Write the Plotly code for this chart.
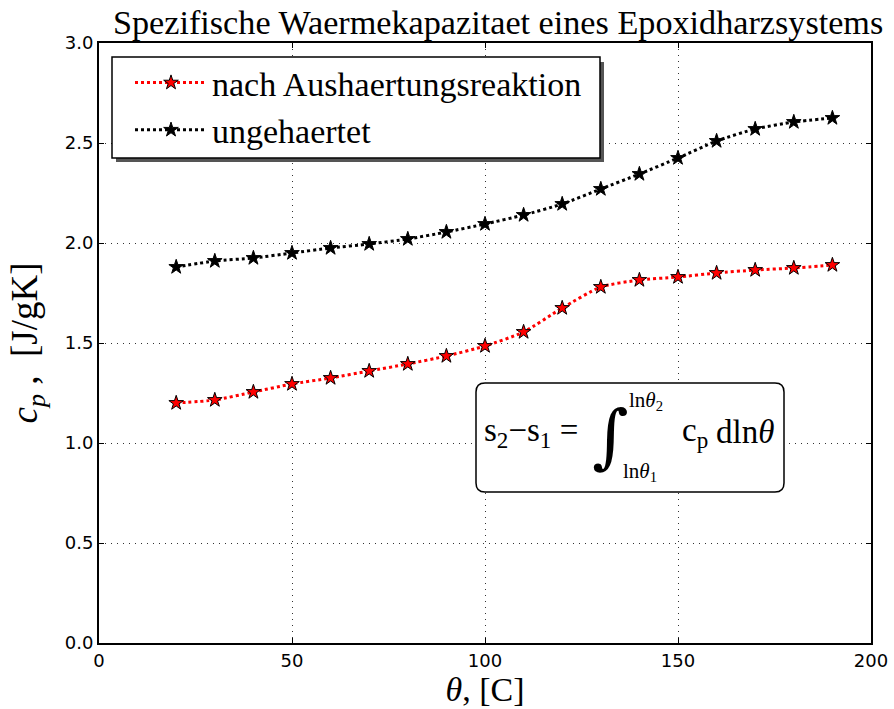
import plotly.graph_objects as go

temps = [20, 30, 40, 50, 60, 70, 80, 90, 100, 110, 120, 130, 140, 150, 160, 170, 180, 190]
cp_cured = [1.20, 1.215, 1.255, 1.295, 1.325, 1.36, 1.395, 1.435, 1.485, 1.555, 1.675, 1.78,
            1.815, 1.83, 1.85, 1.865, 1.875, 1.89]
cp_uncured = [1.88, 1.91, 1.925, 1.95, 1.975, 1.995, 2.02, 2.055, 2.095, 2.14, 2.195, 2.27,
              2.345, 2.425, 2.51, 2.57, 2.605, 2.625]
names = ["nach Aushaertungsreaktion", "ungehaertet"]
x_ticks = [0, 50, 100, 150, 200]
y_ticks = [0.0, 0.5, 1.0, 1.5, 2.0, 2.5, 3.0]

SERIF = "Liberation Serif, DejaVu Serif, serif"
SANS = "DejaVu Sans, sans-serif"

fig = go.Figure()
for vals, name, color in [(cp_cured, names[0], "red"), (cp_uncured, names[1], "black")]:
    fig.add_trace(go.Scatter(
        x=temps, y=vals, name=name, mode="lines+markers",
        line=dict(color=color, width=3, dash="dot", shape="spline", smoothing=0.6),
        marker=dict(symbol="star", size=11, color=color, line=dict(color="black", width=1)),
    ))

W, H = 894, 709
L, R, T, B = 99, 23, 43, 66
pw, ph = W - L - R, H - T - B

def px2paper(x, y):
    return (x - L) / pw, (H - B - y) / ph

shapes = []
# legend shadow and box
x0, y0 = px2paper(116, 62)
x1, y1 = px2paper(604, 162)
shapes.append(dict(type="rect", xref="paper", yref="paper", x0=x0, y0=y1, x1=x1, y1=y0,
                   fillcolor="#555555", line=dict(width=0), layer="above"))
x0, y0 = px2paper(112, 57)
x1, y1 = px2paper(600, 158)
shapes.append(dict(type="rect", xref="paper", yref="paper", x0=x0, y0=y1, x1=x1, y1=y0,
                   fillcolor="white", line=dict(color="black", width=1.5), layer="above"))

# rounded formula box
bx0, by0 = px2paper(476, 492)
bx1, by1 = px2paper(784, 383)
rx, ry = 9 / pw, 9 / ph
path = (f"M {bx0+rx},{by0} L {bx1-rx},{by0} Q {bx1},{by0} {bx1},{by0+ry} "
        f"L {bx1},{by1-ry} Q {bx1},{by1} {bx1-rx},{by1} L {bx0+rx},{by1} "
        f"Q {bx0},{by1} {bx0},{by1-ry} L {bx0},{by0+ry} Q {bx0},{by0} {bx0+rx},{by0} Z")
shapes.append(dict(type="path", xref="paper", yref="paper", path=path,
                   fillcolor="white", line=dict(color="black", width=1.5), layer="above"))

annotations = []
def ann(text, x, y, size, xanchor="center", yanchor="middle", family=SERIF):
    ax, ay = px2paper(x, y)
    annotations.append(dict(text=text, x=ax, y=ay, xref="paper", yref="paper", showarrow=False,
                            xanchor=xanchor, yanchor=yanchor, font=dict(family=family, size=size, color="black")))

ann("s<sub>2</sub>−s<sub>1</sub> =", 482, 432, 33, xanchor="left")
ann("∫", 610, 436, 70, family="DejaVu Serif, serif")
ann("ln<i>θ</i><sub>2</sub>", 627, 401, 21, xanchor="left")
ann("ln<i>θ</i><sub>1</sub>", 621, 472, 21, xanchor="left")
ann("c<sub>p</sub>", 680, 432, 33, xanchor="left")
ann("dln<i>θ</i>", 714, 432, 33, xanchor="left")

fig.update_layout(
    width=W, height=H, margin=dict(l=L, r=R, t=T, b=B, autoexpand=False),
    paper_bgcolor="white", plot_bgcolor="white",
    title=dict(text="Spezifische Waermekapazitaet eines Epoxidharzsystems", x=0.517, xref="paper",
               xanchor="center", y=1 - 22 / H, yref="container", yanchor="middle",
               font=dict(family=SERIF, size=34.2, color="black")),
    xaxis=dict(range=[0, 200], tickvals=x_ticks, ticks="inside", ticklen=5, tickcolor="black",
               showline=True, linecolor="black", linewidth=2, mirror="ticks", automargin=False,
               showgrid=True, gridcolor="#333333", griddash="1px,5px", gridwidth=1, zeroline=False,
               tickfont=dict(family=SANS, size=18, color="black"),
               title=dict(text="<i>θ</i>, [C]", font=dict(family=SERIF, size=34, color="black"), standoff=6)),
    yaxis=dict(range=[0, 3], tickvals=y_ticks, tickformat=".1f", ticks="inside", ticklen=5, tickcolor="black",
               showline=True, linecolor="black", linewidth=2, mirror="ticks", automargin=False,
               showgrid=True, gridcolor="#333333", griddash="1px,5px", gridwidth=1, zeroline=False,
               tickfont=dict(family=SANS, size=18, color="black"),
               title=dict(text="<i>c<sub>p</sub></i> ,  [J/gK]", font=dict(family=SERIF, size=37, color="black"), standoff=16)),
    showlegend=True,
    legend=dict(x=px2paper(130, 0)[0], y=px2paper(0, 54)[1], xanchor="left", yanchor="top",
                bgcolor="rgba(0,0,0,0)", borderwidth=0, itemwidth=72,
                font=dict(family=SERIF, size=34, color="black"), tracegroupgap=0),
    shapes=shapes, annotations=annotations,
)

fig.write_html("out.html")
